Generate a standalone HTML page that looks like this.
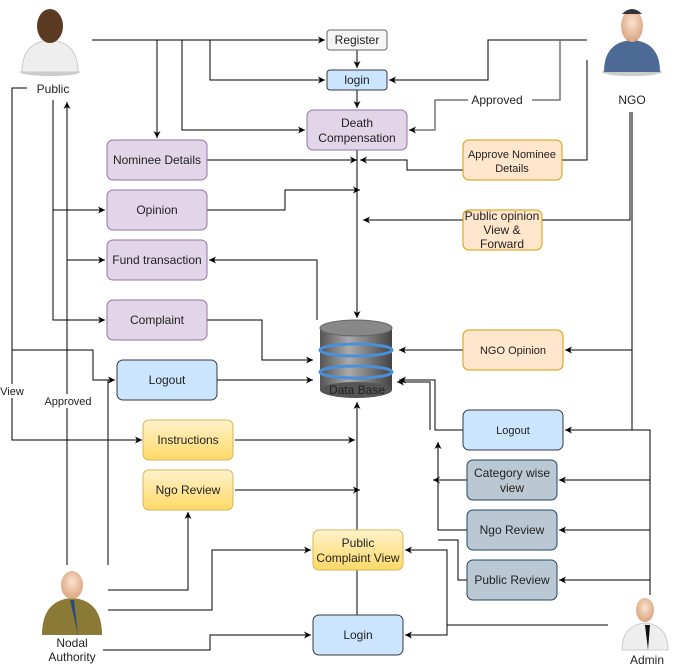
<!DOCTYPE html>
<html><head><meta charset="utf-8"><style>
body{margin:0;background:#fff;}
svg{display:block;font-family:"Liberation Sans",sans-serif;}
text{font-size:12px;fill:#222;}
</style></head><body>
<svg width="683" height="671" viewBox="0 0 683 671" xmlns="http://www.w3.org/2000/svg">
<defs>
<marker id="a" markerWidth="8" markerHeight="8" refX="7" refY="4" orient="auto" markerUnits="userSpaceOnUse"><path d="M0,0.5 L7,4 L0,7.5 L2,4 z" fill="#000"/></marker>
<linearGradient id="y" x1="0" y1="0" x2="0" y2="1"><stop offset="0" stop-color="#fff2cc"/><stop offset="1" stop-color="#ffd966"/></linearGradient>
<linearGradient id="db" x1="0" y1="0" x2="1" y2="0"><stop offset="0" stop-color="#555"/><stop offset="0.4" stop-color="#aaa"/><stop offset="1" stop-color="#444"/></linearGradient>
<radialGradient id="sk" cx="0.5" cy="0.4" r="0.6"><stop offset="0" stop-color="#fbe3cf"/><stop offset="1" stop-color="#d9a37f"/></radialGradient>
</defs>
<g fill="none" stroke="#000" stroke-width="1">
<!-- Public connections -->
<path d="M92,40 H325" marker-end="url(#a)"/>
<path d="M157,40 V138" marker-end="url(#a)"/>
<path d="M182,40 V130 H305" marker-end="url(#a)"/>
<path d="M210,40 V80 H325" marker-end="url(#a)"/>
<path d="M357,50 V68" marker-end="url(#a)"/>
<path d="M357,90 V108" marker-end="url(#a)"/>
<path d="M357,150 V318" marker-end="url(#a)"/>
<path d="M207,160 H357" marker-end="url(#a)"/>
<path d="M463,170 H407 V160 H360" marker-end="url(#a)"/>
<path d="M207,210 H285 V190 H360" marker-end="url(#a)"/>
<path d="M53,100 V320 H105" marker-end="url(#a)"/>
<path d="M53,210 H105" marker-end="url(#a)"/>
<path d="M67,565 V102" marker-end="url(#a)"/>
<path d="M67,260 H105" marker-end="url(#a)"/>
<path d="M317,320 V260 H209" marker-end="url(#a)"/>
<path d="M207,320 H262 V360 H313" marker-end="url(#a)"/>
<path d="M27,88 H12 V440 H142" marker-end="url(#a)"/>
<path d="M12,350 H93 V380 H115" marker-end="url(#a)"/>
<path d="M217,380 H313" marker-end="url(#a)"/>
<path d="M108,565 V380"/>
<path d="M235,440 H355" marker-end="url(#a)"/>
<path d="M235,490 H360" marker-end="url(#a)"/>
<path d="M108,590 H188 V512" marker-end="url(#a)"/>
<path d="M108,610 H212 V550 H311" marker-end="url(#a)"/>
<path d="M103,650 H210 V635 H311" marker-end="url(#a)"/>
<path d="M357,615 V570"/>
<path d="M357,530 V402" marker-end="url(#a)"/>
<!-- Admin -->
<path d="M608,625 H447 V550 H405" marker-end="url(#a)"/>
<path d="M447,625 V635 H405" marker-end="url(#a)"/>
<path d="M650,595 V430 H565" marker-end="url(#a)"/>
<path d="M650,480 H559" marker-end="url(#a)"/>
<path d="M650,530 H559" marker-end="url(#a)"/>
<path d="M650,580 H559" marker-end="url(#a)"/>
<path d="M463,430 H435 V380 H399" marker-end="url(#a)"/>
<path d="M430,430 V382 H397" marker-end="url(#a)"/>
<path d="M467,480 H433" marker-end="url(#a)"/>
<path d="M467,530 H438 V442" marker-end="url(#a)"/>
<path d="M438,520 V470"/>
<path d="M467,580 H458 V540 H438"/>
<!-- NGO -->
<path d="M587,40 H488 V80 H389" marker-end="url(#a)"/>
<path d="M560,40 V100 H532" stroke="#777" stroke-width="1.5"/>
<path d="M468,100 H435 V130 H409" stroke="#777" stroke-width="1.5" marker-end="url(#a)"/>
<path d="M587,60 V160 H562"/>
<path d="M630,112 V220 H542"/>
<path d="M463,220 H363" marker-end="url(#a)"/>
<path d="M632,112 V430"/>
<path d="M632,350 H565" marker-end="url(#a)"/>
<path d="M463,350 H399" marker-end="url(#a)"/>
</g>
<!-- boxes -->
<g stroke-width="1">
<rect x="327" y="30" width="60" height="20" rx="3" fill="#f5f5f5" stroke="#666"/>
<rect x="327" y="70" width="60" height="20" rx="3" fill="#cce5ff" stroke="#36393d"/>
<rect x="307" y="110" width="100" height="40" rx="6" fill="#e1d5e7" stroke="#9673a6"/>
<rect x="107" y="140" width="100" height="40" rx="6" fill="#e1d5e7" stroke="#9673a6"/>
<rect x="107" y="190" width="100" height="40" rx="6" fill="#e1d5e7" stroke="#9673a6"/>
<rect x="107" y="240" width="100" height="40" rx="6" fill="#e1d5e7" stroke="#9673a6"/>
<rect x="107" y="300" width="100" height="40" rx="6" fill="#e1d5e7" stroke="#9673a6"/>
<rect x="117" y="360" width="100" height="40" rx="6" fill="#cce5ff" stroke="#36393d"/>
<rect x="143" y="420" width="90" height="40" rx="6" fill="url(#y)" stroke="#d6b656"/>
<rect x="143" y="470" width="90" height="40" rx="6" fill="url(#y)" stroke="#d6b656"/>
<rect x="313" y="530" width="90" height="40" rx="6" fill="url(#y)" stroke="#d6b656"/>
<rect x="313" y="615" width="90" height="40" rx="6" fill="#cce5ff" stroke="#36393d"/>
<rect x="463" y="140" width="99" height="40" rx="6" fill="#ffe6cc" stroke="#d79b00"/>
<rect x="463" y="210" width="79" height="40" rx="6" fill="#ffe6cc" stroke="#d79b00"/>
<rect x="463" y="330" width="100" height="40" rx="6" fill="#ffe6cc" stroke="#d79b00"/>
<rect x="463" y="410" width="100" height="40" rx="6" fill="#cce5ff" stroke="#36393d"/>
<rect x="467" y="460" width="90" height="40" rx="6" fill="#bac8d3" stroke="#23445d"/>
<rect x="467" y="510" width="90" height="40" rx="6" fill="#bac8d3" stroke="#23445d"/>
<rect x="467" y="560" width="90" height="40" rx="6" fill="#bac8d3" stroke="#23445d"/>
</g>
<!-- database -->
<g>
<rect x="320" y="328" width="72" height="62" fill="url(#db)"/>
<ellipse cx="356" cy="390" rx="36" ry="8" fill="#555"/>
<ellipse cx="356" cy="328" rx="36" ry="8" fill="#888" stroke="#666"/>
<ellipse cx="356" cy="350" rx="36" ry="6" fill="none" stroke="#4a90d9" stroke-width="3"/>
<ellipse cx="356" cy="372" rx="36" ry="6" fill="none" stroke="#4a90d9" stroke-width="3"/>
</g>
<!-- people -->
<g>
<ellipse cx="50" cy="72" rx="30" ry="4" fill="#ccc"/>
<path d="M22,72 Q22,42 50,40 Q78,42 78,72 Z" fill="#eee" stroke="#ccc"/>
<ellipse cx="50" cy="26" rx="13" ry="17" fill="#5a3a22"/>
<ellipse cx="632" cy="72" rx="30" ry="4" fill="#ccc"/>
<path d="M604,72 Q604,42 632,40 Q660,42 660,72 Z" fill="#4d6a96"/>
<ellipse cx="632" cy="26" rx="11" ry="16" fill="url(#sk)"/>
<path d="M622,14 Q632,4 642,14 Z" fill="#333"/>
<path d="M42,635 Q42,600 72,598 Q102,600 102,635 Z" fill="#8a7a35"/>
<path d="M70,600 L78,635 L74,600 Z" fill="#2a4a80"/>
<ellipse cx="72" cy="585" rx="11" ry="14" fill="url(#sk)"/>
<path d="M622,650 Q622,625 645,623 Q668,625 668,650 Z" fill="#eee" stroke="#ccc"/>
<path d="M645,625 L648,650 L650,625 Z" fill="#111"/>
<ellipse cx="645" cy="610" rx="9" ry="12" fill="url(#sk)"/>
</g>
<!-- labels -->
<g text-anchor="middle">
<rect x="35" y="81" width="36" height="14" fill="#fff"/>
<text x="53" y="93">Public</text>
<text x="632" y="104">NGO</text>
<rect x="468" y="92" width="64" height="15" fill="#fff"/>
<text x="497" y="104">Approved</text>
<rect x="40" y="394" width="56" height="14" fill="#fff"/>
<text x="68" y="405" font-size="11" style="font-size:11px">Approved</text>
<rect x="0" y="384" width="26" height="14" fill="#fff"/>
<text x="12" y="395" style="font-size:11px">View</text>
<text x="72" y="647">Nodal</text>
<text x="72" y="661">Authority</text>
<text x="647" y="664">Admin</text>
<text x="357" y="44">Register</text>
<text x="357" y="84">login</text>
<text x="357" y="127">Death</text>
<text x="357" y="142">Compensation</text>
<text x="157" y="164">Nominee Details</text>
<text x="157" y="214">Opinion</text>
<text x="157" y="264">Fund transaction</text>
<text x="157" y="324">Complaint</text>
<text x="167" y="384">Logout</text>
<text x="188" y="444">Instructions</text>
<text x="188" y="494">Ngo Review</text>
<text x="358" y="547">Public</text>
<text x="358" y="562">Complaint View</text>
<text x="358" y="639">Login</text>
<text x="512" y="158" style="font-size:11px">Approve Nominee</text>
<text x="512" y="172" style="font-size:11px">Details</text>
<text x="502" y="220">Public opinion</text>
<text x="502" y="234">View &amp;</text>
<text x="502" y="248">Forward</text>
<text x="513" y="354" style="font-size:11px">NGO Opinion</text>
<text x="357" y="394">Data Base</text>
<text x="513" y="434" style="font-size:11px">Logout</text>
<text x="512" y="477">Category wise</text>
<text x="512" y="492">view</text>
<text x="512" y="534">Ngo Review</text>
<text x="512" y="584">Public Review</text>
</g>
</svg>
</body></html>
